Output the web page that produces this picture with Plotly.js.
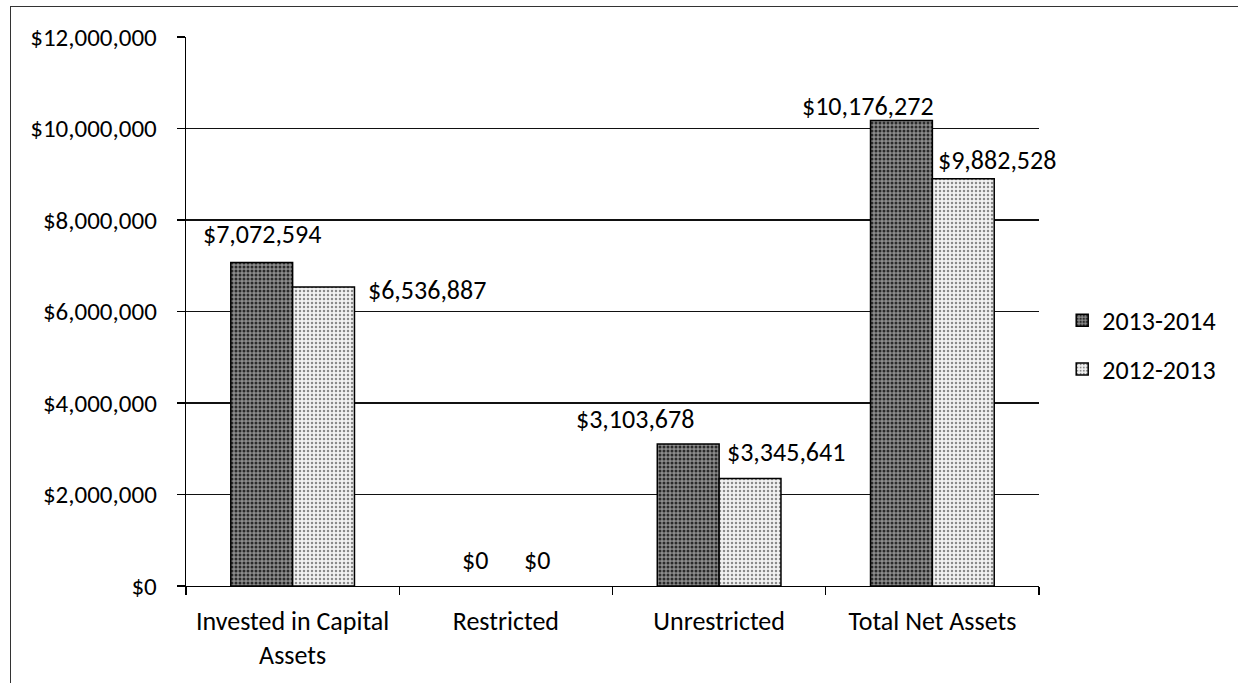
<!DOCTYPE html>
<html>
<head>
<meta charset="utf-8">
<script src="https://cdn.plot.ly/plotly-3.0.1.min.js"></script>
<style>
  html, body { margin: 0; padding: 0; background: #fff; }
  #wrap { position: relative; width: 1238px; height: 683px; overflow: hidden; }
  #frame { position: absolute; left: 10px; top: 6px; right: -5px; bottom: -5px;
           border-top: 1.5px solid #333; border-left: 1.5px solid #333; pointer-events: none; }
  #chart { position: absolute; left: 0; top: 0; width: 1238px; height: 683px; }
</style>
</head>
<body>
<div id="wrap">
  <div id="chart"></div>
  <div id="frame"></div>
</div>
<script>
// ---- data ----
const categories = ["Invested in Capital<br>Assets", "Restricted", "Unrestricted", "Total Net Assets"];
const seriesNames = ["2013-2014", "2012-2013"];
// bar heights as drawn
const values2013_2014 = [7072594, 0, 3103678, 10176272];
const values2012_2013 = [6536887, 0, 2350000, 8900000];
// data label texts as printed
const labels2013_2014 = ["$7,072,594", "$0", "$3,103,678", "$10,176,272"];
const labels2012_2013 = ["$6,536,887", "$0", "$3,345,641", "$9,882,528"];
const yTickVals = [0, 2000000, 4000000, 6000000, 8000000, 10000000, 12000000];
const yTickText = ["$0", "$2,000,000", "$4,000,000", "$6,000,000", "$8,000,000", "$10,000,000", "$12,000,000"];

// label placement offsets (pixels) – styling only
const labelShift2013 = [[0, 28], [0, 26], [-53, 25], [-33, 14]];
const labelShift2012 = [[103, -3], [0, 26], [36, 26], [34, 19]];

const FONT = "Carlito, Lato, 'Liberation Sans', sans-serif";
const FS_LABEL = 26, FS_Y = 25, FS_X = 26, FS_LEG = 26;
const halfBar = 31;
const lineW = v => v.map(d => (d === 0 ? 0 : 1.5));

const traces = [
  {
    type: "bar", name: seriesNames[0], x: categories, y: values2013_2014,
    legendgroup: "a",
    marker: {
      color: "#7a7a7a",
      line: { color: "#000", width: lineW(values2013_2014) },
      pattern: { shape: ".", bgcolor: "#8c8c8c", fgcolor: "#2a2a2a", size: 4, solidity: 0.45 }
    },
    hoverinfo: "skip"
  },
  {
    type: "bar", name: seriesNames[1], x: categories, y: values2012_2013,
    legendgroup: "b",
    marker: {
      color: "#e2e2e2",
      line: { color: "#000", width: lineW(values2012_2013) },
      pattern: { shape: ".", bgcolor: "#f2f2f2", fgcolor: "#8a8a8a", size: 4, solidity: 0.3 }
    },
    hoverinfo: "skip"
  }
];

const annotations = [];
categories.forEach((c, i) => {
  annotations.push({
    x: c, y: values2013_2014[i], xref: "x", yref: "y",
    text: labels2013_2014[i], showarrow: false,
    xanchor: "center", yanchor: "middle",
    xshift: -halfBar + labelShift2013[i][0], yshift: labelShift2013[i][1],
    font: { family: FONT, size: FS_LABEL, color: "#000" }
  });
  annotations.push({
    x: c, y: values2012_2013[i], xref: "x", yref: "y",
    text: labels2012_2013[i], showarrow: false,
    xanchor: "center", yanchor: "middle",
    xshift: halfBar + labelShift2012[i][0], yshift: labelShift2012[i][1],
    font: { family: FONT, size: FS_LABEL, color: "#000" }
  });
});

const layout = {
  width: 1238, height: 683,
  margin: { l: 186, r: 199, t: 37, b: 97, autoexpand: false },
  paper_bgcolor: "rgba(0,0,0,0)",
  plot_bgcolor: "#fff",
  font: { family: FONT, size: FS_Y, color: "#000" },
  barmode: "group",
  bargap: 0.42,
  bargroupgap: 0,
  showlegend: true,
  legend: {
    xref: "container", yref: "container",
    x: 0.858, xanchor: "left", y: 0.495, yanchor: "middle",
    font: { family: FONT, size: FS_LEG, color: "#000" },
    tracegroupgap: 12, itemwidth: 30, bgcolor: "rgba(0,0,0,0)"
  },
  xaxis: {
    type: "category",
    range: [-0.5, categories.length - 0.5],
    tickangle: 0,
    showline: true, linecolor: "#000", linewidth: 1.2,
    ticks: "outside", tickson: "boundaries", ticklen: 8, tickcolor: "#000", tickwidth: 1.2,
    showgrid: false, zeroline: false,
    tickfont: { family: FONT, size: FS_X, color: "#000" },
    ticklabelstandoff: 12,
    automargin: false,
    fixedrange: true
  },
  yaxis: {
    range: [0, 12000000],
    tickvals: yTickVals, ticktext: yTickText,
    showline: true, linecolor: "#000", linewidth: 1.2,
    ticks: "outside", ticklen: 8, tickcolor: "#000", tickwidth: 1.2,
    showgrid: true, gridcolor: "#111", gridwidth: 1.2,
    zeroline: false,
    tickfont: { family: FONT, size: FS_Y, color: "#000" },
    ticklabelstandoff: 15,
    automargin: false,
    fixedrange: true
  },
  annotations: annotations
};

Plotly.newPlot("chart", traces, layout, { displayModeBar: false, staticPlot: true });
</script>
</body>
</html>
